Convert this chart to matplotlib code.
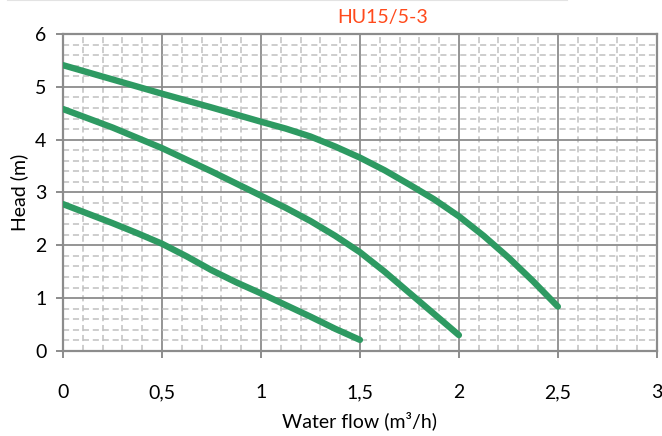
import matplotlib
matplotlib.use('Agg')
from matplotlib import pyplot as plt
from matplotlib.ticker import MultipleLocator, FixedLocator, FixedFormatter
from matplotlib.lines import Line2D

# pump curves (flow m3/h, head m)
flow_top = [0, 0.25, 0.5, 0.75, 1.0, 1.125, 1.25, 1.375, 1.5, 1.625, 1.75,
            1.875, 2.0, 2.125, 2.25, 2.375, 2.5]
head_top = [5.41, 5.14, 4.87, 4.61, 4.34, 4.21, 4.06, 3.87, 3.66, 3.42, 3.15,
            2.87, 2.55, 2.18, 1.77, 1.32, 0.84]

flow_mid = [0, 0.25, 0.5, 0.75, 1.0, 1.125, 1.25, 1.375, 1.5, 1.625, 1.75,
            1.875, 2.0]
head_mid = [4.58, 4.23, 3.84, 3.40, 2.94, 2.71, 2.46, 2.18, 1.87, 1.50, 1.10,
            0.70, 0.30]

flow_low = [0, 0.125, 0.25, 0.375, 0.5, 0.625, 0.75, 0.875, 1.0, 1.125, 1.25,
            1.375, 1.5]
head_low = [2.78, 2.60, 2.42, 2.23, 2.03, 1.79, 1.53, 1.30, 1.09, 0.87, 0.65,
            0.42, 0.21]

xticks = [0, 0.5, 1, 1.5, 2, 2.5, 3]
xlabels = ['0', '0,5', '1', '1,5', '2', '2,5', '3']
yticks = [0, 1, 2, 3, 4, 5, 6]

plt.rcParams['font.family'] = ['Lato', 'DejaVu Sans']

fig = plt.figure(figsize=(6.62, 4.36), dpi=100)
ax = fig.add_axes([0.0952, 0.195, 0.897, 0.727])

green = '#2E9A62'
for fx, hy in [(flow_top, head_top), (flow_mid, head_mid), (flow_low, head_low)]:
    ax.plot(fx, hy, color=green, lw=4.6, solid_capstyle='round', solid_joinstyle='round', zorder=3)

ax.set_xlim(0, 3)
ax.set_ylim(0, 6)
ax.xaxis.set_major_locator(FixedLocator(xticks))
ax.xaxis.set_major_formatter(FixedFormatter(xlabels))
ax.yaxis.set_major_locator(FixedLocator(yticks))
ax.xaxis.set_minor_locator(MultipleLocator(0.1))
ax.yaxis.set_minor_locator(MultipleLocator(0.2))

ax.grid(True, which='major', color='#8c8c8c', lw=1.3, zorder=1)
ax.grid(True, which='minor', color='#c0c0c0', lw=1.1, ls=(0, (4, 2.5)), zorder=0)
ax.set_axisbelow(True)
for s in ax.spines.values():
    s.set_color('#8c8c8c')
    s.set_linewidth(1.6)

ax.tick_params(which='major', length=5, width=1.4, color='#8c8c8c', labelsize=14, labelcolor='black')
ax.tick_params(axis='x', which='major', pad=19)
ax.tick_params(axis='y', which='major', pad=7)
ax.tick_params(which='minor', length=0)

ax.set_xlabel('Water flow (m³/h)', fontsize=14, labelpad=7)
ax.set_ylabel('Head (m)', fontsize=14, labelpad=5)
fig.text(337 / 662, 1 - 18 / 436, 'HU15/5-3', fontsize=14, color='#FF4A1C', ha='left', va='center')

# thin border line at the top of the image
fig.add_artist(Line2D([0.012, 0.857], [0.999, 0.999], color='#e3e3e3', lw=1.5))

plt.savefig('out.png', dpi=100)
